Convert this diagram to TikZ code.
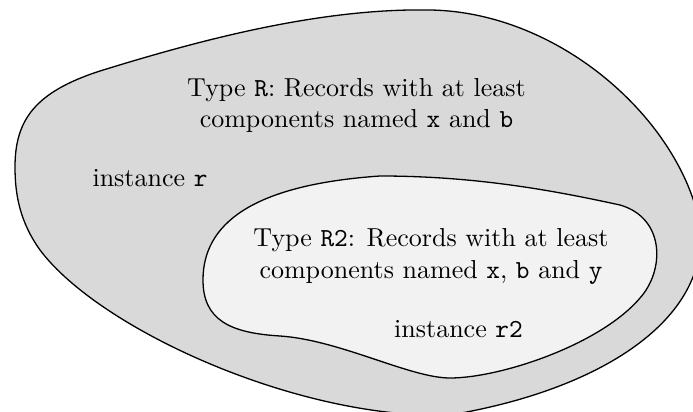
\documentclass[tikz,border=0pt]{standalone}
\begin{document}
\begin{tikzpicture}[x=0.3846pt,y=-0.3846pt,
  outerblob/.style={draw=black, line width=0.5pt, fill=black!15},
  innerblob/.style={draw=black, line width=0.5pt, fill=black!5},
  lbl/.style={inner sep=0pt, align=center, font=\normalsize}]
\useasboundingbox (0,0) rectangle (693,412);
\clip (0,0) rectangle (693,412);
\draw[outerblob] (15,167)
  .. controls (15,120) and (35,92) .. (100,71)
  .. controls (200,40) and (320,8) .. (430,10)
  .. controls (560,12) and (680,120) .. (700,225)
  .. controls (710,320) and (600,390) .. (450,415)
  .. controls (300,420) and (100,330) .. (40,250)
  .. controls (20,222) and (15,195) .. (15,167) -- cycle;
\draw[innerblob] (203,280)
  .. controls (203,225) and (250,185) .. (380,176)
  .. controls (480,176) and (560,192) .. (620,205)
  .. controls (665,218) and (665,270) .. (640,298)
  .. controls (600,345) and (500,378) .. (450,378)
  .. controls (410,378) and (340,340) .. (280,336)
  .. controls (230,333) and (203,320) .. (203,280) -- cycle;
\node[lbl] (typeR) at (356.5,105.5) {Type \texttt{R}: Records with at least\\components named \texttt{x} and \texttt{b}};
\node[lbl, anchor=base] (instR) at (150,187) {instance \texttt{r}};
\node[lbl] (typeR2) at (431,256.5) {Type \texttt{R2}: Records with at least\\components named \texttt{x}, \texttt{b} and \texttt{y}};
\node[lbl, anchor=base] (instR2) at (458.5,338) {instance \texttt{r2}};
\end{tikzpicture}
\end{document}
